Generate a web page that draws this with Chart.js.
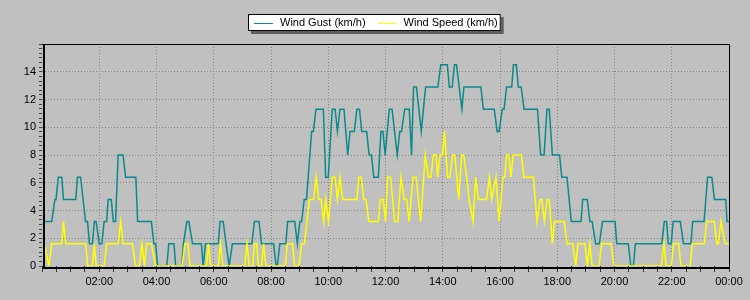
<!DOCTYPE html>
<html>
<head>
<meta charset="utf-8">
<script src="https://cdn.jsdelivr.net/npm/chart.js@4.4.1/dist/chart.umd.min.js"></script>
<style>
html,body{margin:0;padding:0;background:#c0c0c0;}
#wrap{width:750px;height:300px;position:relative;}
</style>
</head>
<body>
<div id="wrap"><canvas id="c" width="750" height="300"></canvas></div>
<script>
// ---- data (hours since midnight, km/h) ----
const seriesLabels = ['Wind Gust (km/h)', 'Wind Speed (km/h)'];

const gustHours = [
  0.08,0.34,0.45,0.49,0.57,0.69,0.75,1.18,1.24,1.35,
  1.52,1.59,1.66,1.76,1.83,1.89,2.00,2.09,2.17,2.26,
  2.31,2.42,2.49,2.57,2.66,2.83,2.92,3.28,3.34,3.82,
  3.91,3.97,4.04,4.36,4.43,4.61,4.67,4.88,4.94,5.06,
  5.13,5.26,5.57,5.63,5.71,6.16,6.22,6.33,6.43,6.54,
  6.65,7.33,7.42,7.58,7.67,8.09,8.18,8.22,8.31,8.52,
  8.58,8.83,8.92,9.01,9.07,9.16,9.24,9.42,9.48,9.57,
  9.83,9.91,10.00,10.14,10.24,10.32,10.41,10.55,10.68,10.76,
  10.91,11.00,11.09,11.17,11.34,11.43,11.51,11.59,11.75,11.84,
  11.91,11.99,12.13,12.23,12.41,12.50,12.56,12.67,12.83,12.91,
  12.98,13.08,13.25,13.40,13.83,13.93,14.16,14.23,14.33,14.41,
  14.48,14.67,14.74,15.33,15.42,15.80,15.90,15.97,16.08,16.14,
  16.23,16.41,16.47,16.57,16.64,16.74,16.84,17.31,17.42,17.54,
  17.64,17.72,17.83,18.08,18.16,18.34,18.49,18.83,18.89,19.05,
  19.14,19.22,19.34,19.47,19.58,20.02,20.08,20.48,20.57,20.66,
  20.73,21.65,21.74,21.82,21.88,21.98,22.05,22.30,22.41,22.67,
  22.73,23.13,23.25,23.40,23.49,23.89,23.93,24.00
];
const gustValues = [
  3.2,3.2,4.8,4.8,6.4,6.4,4.8,4.8,6.4,6.4,
  3.2,3.2,1.6,1.6,3.2,3.2,1.6,1.6,3.2,3.2,
  4.8,4.8,3.2,3.2,8.0,8.0,6.4,6.4,3.2,3.2,
  1.6,1.6,0,0,1.6,1.6,0,0,1.6,3.2,
  3.2,1.6,1.6,0,1.6,1.6,3.2,3.2,1.6,0,
  1.6,1.6,3.2,3.2,1.6,1.6,0,0,1.6,1.6,
  3.2,3.2,1.6,3.2,3.2,4.8,4.8,9.7,9.7,11.3,
  11.3,6.4,6.4,11.3,11.3,9.7,11.3,11.3,8.0,9.7,
  9.7,11.3,11.3,9.7,9.7,8.0,8.0,6.4,6.4,9.7,
  9.7,8.0,11.3,11.3,8.0,9.7,9.7,11.3,11.3,8.0,
  12.9,12.9,9.7,12.9,12.9,14.5,14.5,12.9,12.9,14.5,
  14.5,11.3,12.9,12.9,11.3,11.3,9.7,9.7,11.3,11.3,
  12.9,12.9,14.5,14.5,12.9,12.9,11.3,11.3,8.0,8.0,
  11.3,11.3,8.0,8.0,6.4,6.4,3.2,3.2,4.8,4.8,
  3.2,3.2,1.6,1.6,3.2,3.2,1.6,1.6,0,0,
  1.6,1.6,3.2,3.2,1.6,1.6,3.2,3.2,1.6,1.6,
  3.2,3.2,6.4,6.4,4.8,4.8,3.2,3.2
];

const speedHours = [
  0.08,0.24,0.34,0.69,0.75,0.83,1.53,1.59,1.76,1.83,
  1.89,2.17,2.26,2.66,2.75,2.83,3.16,3.27,3.40,3.49,
  3.58,3.65,3.82,3.97,4.89,4.99,5.10,5.17,5.75,5.81,
  5.89,6.16,6.23,6.32,7.08,7.16,7.24,7.36,7.42,7.50,
  7.56,7.67,7.74,7.82,8.50,8.57,8.75,8.82,8.98,9.07,
  9.17,9.34,9.49,9.58,9.67,9.75,9.84,9.91,10.01,10.14,
  10.24,10.32,10.41,10.50,11.00,11.07,11.15,11.24,11.32,11.42,
  11.75,11.82,11.92,12.00,12.07,12.18,12.32,12.43,12.54,12.65,
  12.74,12.83,12.96,13.07,13.23,13.39,13.50,13.59,13.67,13.77,
  13.82,13.91,13.99,14.06,14.17,14.25,14.34,14.42,14.56,14.66,
  14.73,14.84,14.92,15.06,15.15,15.24,15.53,15.63,15.71,15.86,
  15.97,16.10,16.17,16.23,16.31,16.38,16.46,16.75,16.83,17.17,
  17.29,17.40,17.46,17.55,17.65,17.72,17.83,17.90,18.25,18.34,
  18.54,18.65,18.72,18.97,19.05,19.14,19.22,19.46,19.55,19.88,
  19.98,21.63,21.73,21.80,21.99,22.06,22.24,22.32,22.64,22.72,
  23.14,23.22,23.49,23.57,23.63,23.72,23.86,24.00
];
const speedValues = [
  1.6,0,1.6,1.6,3.2,1.6,1.6,0,0,1.6,
  0,0,1.6,1.6,3.2,1.6,1.6,0,0,1.6,
  0,1.6,1.6,0,0,1.6,1.6,0,0,1.6,
  0,0,1.6,0,0,1.6,0,0,1.6,1.6,
  0,0,1.6,0,0,1.6,1.6,0,0,1.6,
  1.6,4.8,4.8,6.4,4.8,4.8,3.2,4.8,3.2,6.4,
  6.4,4.8,6.4,4.8,4.8,6.4,6.4,4.8,4.8,3.2,
  3.2,4.8,4.8,3.2,6.4,6.4,3.2,3.2,6.4,4.8,
  4.8,3.2,6.4,6.4,3.2,8.0,6.4,6.4,8.0,8.0,
  6.4,8.0,8.0,9.7,6.4,6.4,8.0,8.0,4.8,8.0,
  8.0,6.4,4.8,3.2,6.4,4.8,4.8,6.4,4.8,6.4,
  3.2,6.4,6.4,8.0,8.0,6.4,8.0,8.0,6.4,6.4,
  3.2,4.8,4.8,3.2,4.8,4.8,1.6,3.2,3.2,1.6,
  1.6,0,1.6,1.6,0,1.6,0,0,1.6,1.6,
  0,0,1.6,0,0,1.6,1.6,0,0,1.6,
  1.6,3.2,3.2,1.6,1.6,3.2,1.6,1.6
];

// tick labels
const xLabelHours = [2,4,6,8,10,12,14,16,18,20,22,24];
const xLabels = ['02:00','04:00','06:00','08:00','10:00','12:00','14:00','16:00','18:00','20:00','22:00','00:00'];
const yLabelValues = [0,2,4,6,8,10,12,14];

// ---- build ----
function toPoints(xs, ys) {
  const n = Math.min(xs.length, ys.length);
  const out = [];
  for (let i = 0; i < n; i++) out.push({x: xs[i], y: ys[i]});
  return out;
}
const FONT = '"Liberation Sans", Arial, Helvetica, sans-serif';
const GUST_COLOR = '#0a8a8a';
const SPEED_COLOR = '#ffff00';
const GRID_COLOR = '#858585';

const isMajorX = v => xLabelHours.some(h => Math.abs(h - v) < 1e-6);
const isMajorY = v => yLabelValues.some(h => Math.abs(h - v) < 1e-6);

const framePlugin = {
  id: 'frame',
  afterDatasetsDraw(chart) {
    const {ctx, chartArea: {left, top, right, bottom}} = chart;
    ctx.save();
    ctx.fillStyle = '#000';
    ctx.fillRect(left, top, right - left + 1, 1);
    ctx.fillRect(right, top, 1, bottom - top + 3);
    ctx.fillRect(left + 1, top, 2, bottom - top + 3);
    ctx.fillRect(left, bottom + 1, right - left + 1, 2);
    ctx.restore();
  }
};

const legendPlugin = {
  id: 'boxLegend',
  afterDraw(chart) {
    const ctx = chart.ctx;
    const ds = chart.data.datasets;
    const items = [ds[0], ds[1]];
    ctx.save();
    ctx.font = '11px ' + FONT;
    const sample = 19, gapT = 7, gapI = 12;
    const x0 = 254, yc = 23;
    let w = 0;
    items.forEach((d, i) => {
      w += sample + gapT + ctx.measureText(d.label).width + (i < items.length - 1 ? gapI : 0);
    });
    const bx = 248, by = 14, bw = (x0 - bx) + w + 3, bh = 17;
    ctx.fillStyle = '#5e5e5e';
    ctx.fillRect(bx + 3, by + 3, bw, bh);
    ctx.fillStyle = '#ffffff';
    ctx.fillRect(bx, by, bw, bh);
    ctx.strokeStyle = '#000';
    ctx.lineWidth = 1;
    ctx.strokeRect(bx + 0.5, by + 0.5, bw - 1, bh - 1);
    let x = x0;
    items.forEach(d => {
      ctx.strokeStyle = d.borderColor;
      ctx.lineWidth = 1;
      ctx.beginPath();
      ctx.moveTo(x, yc + 0.5);
      ctx.lineTo(x + sample, yc + 0.5);
      ctx.stroke();
      x += sample + gapT;
      ctx.fillStyle = '#000';
      ctx.textBaseline = 'middle';
      ctx.textAlign = 'left';
      ctx.fillText(d.label, x, yc);
      x += ctx.measureText(d.label).width + gapI;
    });
    ctx.restore();
  }
};

new Chart(document.getElementById('c'), {
  type: 'line',
  data: {
    datasets: [
      {
        label: seriesLabels[0],
        data: toPoints(gustHours, gustValues),
        borderColor: GUST_COLOR,
        backgroundColor: GUST_COLOR,
        borderWidth: 1.5,
        pointRadius: 0,
        tension: 0,
        order: 2
      },
      {
        label: seriesLabels[1],
        data: toPoints(speedHours, speedValues),
        borderColor: SPEED_COLOR,
        backgroundColor: SPEED_COLOR,
        borderWidth: 1.5,
        pointRadius: 0,
        tension: 0,
        order: 1
      }
    ]
  },
  options: {
    responsive: false,
    animation: false,
    devicePixelRatio: 1,
    layout: {padding: {top: 44, right: 21, left: 0, bottom: 0}},
    plugins: {legend: {display: false}, tooltip: {enabled: false}},
    scales: {
      x: {
        type: 'linear',
        min: 0,
        max: 24,
        afterBuildTicks: scale => {
          const t = [];
          for (let k = 0; k <= 48; k++) t.push({value: k / 2});
          scale.ticks = t;
        },
        afterFit: scale => { scale.height = 34; },
        border: {display: false, dash: [1, 2]},
        grid: {
          color: c => (c.tick && isMajorX(c.tick.value) && c.tick.value > 0 && c.tick.value < 24) ? GRID_COLOR : 'rgba(0,0,0,0)',
          lineWidth: 1,
          tickColor: '#333',
          tickLength: 6,
          tickBorderDash: []
        },
        ticks: {
          autoSkip: false,
          maxRotation: 0,
          padding: 3,
          color: '#000',
          font: {family: FONT, size: 11},
          callback: v => {
            const i = xLabelHours.findIndex(h => Math.abs(h - v) < 1e-6);
            return i >= 0 ? xLabels[i] : '';
          }
        }
      },
      y: {
        type: 'linear',
        min: 0,
        max: 16,
        afterBuildTicks: scale => {
          const t = [];
          for (let k = 0; k <= 48; k++) t.push({value: k / 3});
          scale.ticks = t;
        },
        afterFit: scale => { scale.width = 42; },
        border: {display: false, dash: [1, 2]},
        grid: {
          color: c => (c.tick && isMajorY(c.tick.value) && c.tick.value > 0) ? GRID_COLOR : 'rgba(0,0,0,0)',
          lineWidth: 1,
          tickColor: '#444',
          tickLength: 3,
          tickBorderDash: []
        },
        ticks: {
          autoSkip: false,
          padding: 3,
          color: '#000',
          font: {family: FONT, size: 11},
          callback: v => {
            const i = yLabelValues.findIndex(h => Math.abs(h - v) < 1e-6);
            return i >= 0 ? String(yLabelValues[i]) : '';
          }
        }
      }
    }
  },
  plugins: [framePlugin, legendPlugin]
});
</script>
</body>
</html>
